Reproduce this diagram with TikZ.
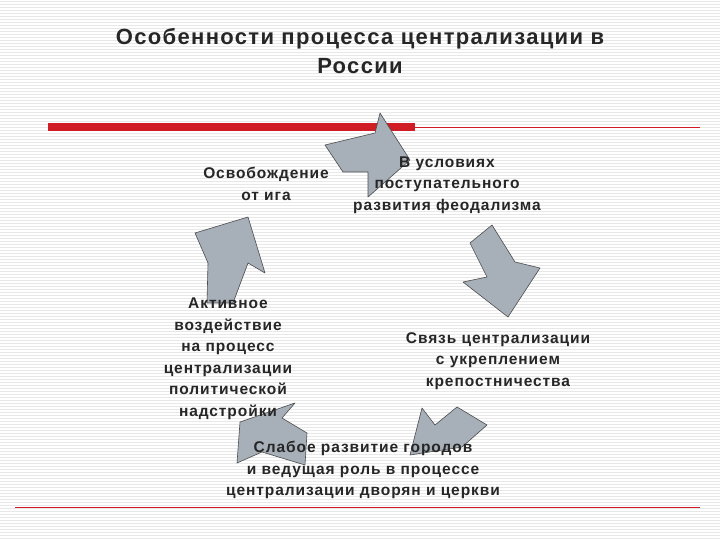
\documentclass[tikz,border=0pt]{standalone}
\usepackage{fontspec}
\setmainfont{Liberation Sans}
\newfontfamily\wide[LetterSpace=6]{Liberation Sans}
\begin{document}
\begin{tikzpicture}[x=1pt,y=-1pt,
  arr/.style={fill=arrgray,draw=black!70,line width=0.6pt,line join=round},
  lbl/.style={font=\wide\bfseries\fontsize{15.5}{21.5}\selectfont,align=center,text=black!85,inner sep=0pt}]
\definecolor{arrgray}{HTML}{A7AFB9}
\definecolor{redline}{HTML}{D01C24}
\useasboundingbox (0,0) rectangle (720,540);
\fill[white] (0,0) rectangle (720,540);
\foreach \y in {1,4,...,540} \draw[black!9,line width=0.4pt] (0,\y) -- (720,\y);
\node[font=\wide\bfseries\fontsize{22}{29}\selectfont,align=center,text=black!85] (title) at (360,51) {Особенности процесса централизации в\\России};
\fill[redline] (48,123) rectangle (415,131);
\draw[redline,line width=0.6pt] (415,127) -- (700,127);
\draw[redline,line width=0.6pt] (15,507) -- (700,507);
\draw[arr] (325,145) -- (375,133) -- (380,113) -- (410,160) -- (368,197) -- (368,172) -- (343,172) -- cycle;
\draw[arr] (470,243) -- (492,225) -- (515,262) -- (540,268) -- (508,317) -- (463,282) -- (487,277) -- cycle;
\draw[arr] (422,408) -- (435,425) -- (457,407) -- (487,425) -- (462,447) -- (410,455) -- cycle;
\draw[arr] (240,422) -- (295,403) -- (282,418) -- (307,433) -- (305,465) -- (262,452) -- (237,463) -- cycle;
\draw[arr] (207,303) -- (208,263) -- (195,233) -- (248,217) -- (265,273) -- (248,263) -- (233,303) -- cycle;
\node[lbl] (a) at (266,184) {Освобождение\\от ига};
\node[lbl] (b) at (447,185) {В условиях\\поступательного\\развития феодализма};
\node[lbl] (c) at (498,361) {Связь централизации\\с укреплением\\крепостничества};
\node[lbl] (d) at (363,470) {Слабое развитие городов\\и ведущая роль  в процессе\\централизации дворян  и церкви};
\node[lbl] (e) at (228,359) {Активное\\воздействие\\на процесс\\централизации\\политической\\надстройки};
\end{tikzpicture}
\end{document}
